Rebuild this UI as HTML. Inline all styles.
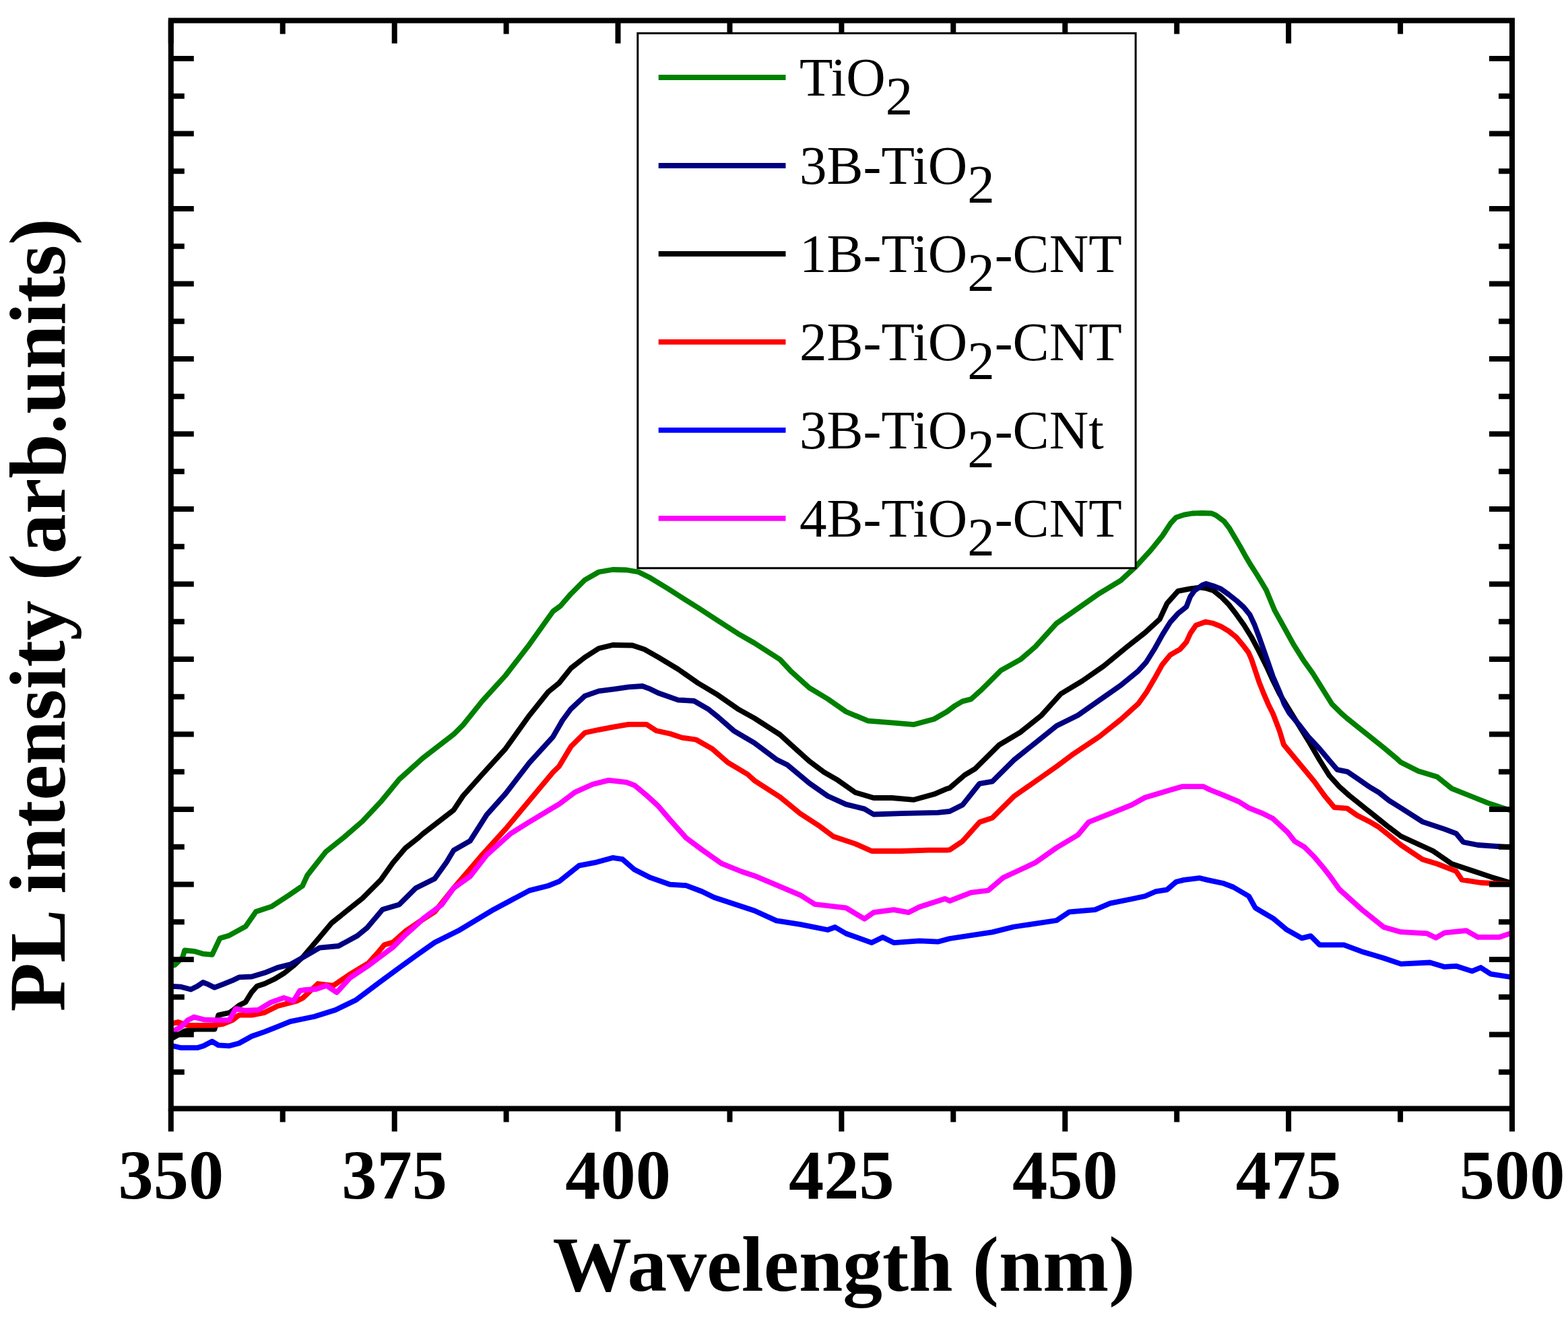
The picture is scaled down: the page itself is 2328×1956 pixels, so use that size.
<!DOCTYPE html>
<html><head><meta charset="utf-8"><title>PL spectra</title>
<style>html,body{margin:0;padding:0;background:#fff;}svg{display:block;}</style>
</head><body><svg width="2328" height="1956" viewBox="0 0 2328 1956"><clipPath id="c"><rect x="253.8" y="30.5" width="1991.2" height="1616.0"/></clipPath><g clip-path="url(#c)"><polyline points="256.0,1434.0 259.5,1433.3 271.0,1421.9 274.2,1411.5 288.3,1412.8 301.0,1416.6 315.0,1417.9 326.5,1393.6 339.3,1389.8 364.8,1375.8 380.0,1354.0 403.0,1346.4 428.6,1329.8 449.0,1315.8 456.3,1300.0 483.5,1265.3 510.7,1243.5 538.0,1219.9 565.2,1190.9 592.7,1157.5 627.8,1125.9 673.5,1090.7 687.5,1076.7 715.6,1041.6 750.7,1003.0 785.9,957.3 821.0,908.0 832.0,900.0 847.7,881.9 868.3,861.3 889.0,849.5 909.6,846.0 930.2,846.5 947.9,849.5 965.6,858.3 992.1,874.5 1012.7,887.8 1036.3,902.5 1065.8,921.7 1095.3,940.8 1120.0,955.0 1158.1,979.5 1174.5,997.2 1201.7,1021.7 1228.9,1038.0 1256.1,1057.0 1288.8,1070.7 1324.2,1073.4 1356.9,1076.1 1386.8,1068.0 1405.9,1057.0 1418.0,1048.0 1429.0,1041.6 1441.7,1038.4 1457.6,1024.1 1486.2,995.6 1514.8,979.7 1537.0,960.6 1568.7,925.7 1600.5,903.5 1632.2,881.3 1664.0,862.2 1686.2,841.6 1708.6,817.1 1725.7,796.0 1737.9,777.3 1745.9,768.6 1757.8,764.6 1769.7,762.5 1785.0,762.0 1799.0,762.5 1805.4,765.4 1817.3,774.1 1825.2,784.4 1833.2,797.9 1841.1,811.4 1849.0,825.7 1857.0,839.2 1864.9,851.5 1872.9,864.5 1880.0,876.5 1892.5,906.7 1906.7,932.2 1920.9,957.8 1935.1,980.4 1949.2,1000.3 1963.4,1023.0 1977.6,1045.7 1991.8,1059.8 2000.0,1066.9 2021.6,1084.2 2054.5,1110.5 2074.2,1127.0 2080.0,1132.3 2105.8,1145.2 2133.8,1153.8 2155.4,1171.1 2187.7,1184.0 2209.2,1192.6 2242.0,1203.4" fill="none" stroke="#008000" stroke-width="7.8" stroke-linejoin="round" stroke-linecap="butt"/><polyline points="256.0,1542.0 264.3,1537.1 275.0,1531.0 290.0,1528.6 318.6,1528.6 324.3,1507.6 341.0,1504.0 345.2,1501.0 354.8,1493.3 364.3,1488.6 373.8,1473.3 381.4,1464.8 392.9,1461.0 407.1,1454.3 421.4,1445.7 435.7,1434.3 450.0,1421.0 474.4,1392.3 492.6,1370.6 519.8,1348.8 538.0,1334.3 565.2,1307.0 583.3,1281.6 601.5,1259.9 620.0,1245.3 627.8,1238.3 673.5,1203.1 687.5,1182.0 715.6,1150.5 750.7,1111.8 785.9,1062.6 814.0,1027.5 830.0,1014.5 847.7,992.4 868.3,976.2 889.0,963.0 909.6,958.0 939.0,958.5 956.7,964.4 977.4,976.2 1006.8,993.9 1036.3,1014.5 1065.8,1032.2 1095.3,1052.8 1120.0,1066.6 1158.1,1091.1 1174.5,1106.1 1201.7,1130.6 1223.5,1146.9 1242.5,1157.8 1269.7,1176.9 1297.0,1185.0 1324.2,1185.0 1356.9,1187.8 1386.8,1179.6 1405.9,1171.4 1410.0,1170.2 1432.2,1151.1 1448.0,1141.6 1483.0,1106.7 1514.8,1087.6 1546.5,1062.2 1575.0,1030.5 1606.8,1011.4 1638.6,989.2 1673.5,960.6 1700.0,939.6 1721.8,919.7 1732.7,896.1 1749.0,877.9 1767.2,874.3 1781.7,872.5 1790.0,873.6 1801.3,877.0 1812.7,886.1 1824.0,897.4 1835.4,912.2 1846.7,928.0 1858.0,946.2 1869.4,967.7 1880.7,990.4 1890.0,1010.8 1900.0,1031.0 1930.0,1080.0 1944.2,1103.0 1959.0,1128.5 1973.7,1152.0 1988.5,1168.3 2003.2,1181.5 2017.9,1193.3 2032.7,1205.1 2047.4,1216.9 2062.2,1228.7 2080.0,1242.0 2127.4,1263.7 2155.4,1283.0 2187.7,1293.8 2213.5,1302.4 2242.0,1311.0" fill="none" stroke="#000000" stroke-width="7.8" stroke-linejoin="round" stroke-linecap="butt"/><polyline points="256.0,1464.8 269.0,1465.7 283.3,1469.5 292.9,1464.8 301.4,1459.0 309.0,1461.9 318.6,1466.7 331.0,1461.9 345.2,1456.2 354.8,1451.4 373.8,1450.5 392.9,1444.8 411.9,1437.1 431.0,1432.4 450.0,1421.9 474.5,1407.7 502.6,1405.0 530.6,1389.8 545.0,1378.0 568.0,1350.7 592.7,1343.6 617.3,1319.0 645.4,1305.0 663.0,1280.4 673.5,1262.9 698.0,1248.8 722.6,1210.2 750.7,1178.6 785.9,1132.9 821.0,1094.3 835.0,1070.0 847.7,1052.8 868.3,1033.7 889.0,1026.3 912.5,1023.4 933.2,1020.4 953.8,1019.0 965.6,1023.4 977.4,1029.3 1006.8,1039.6 1030.4,1041.0 1051.0,1052.8 1065.8,1064.6 1089.4,1085.3 1120.0,1103.4 1152.7,1127.9 1169.0,1136.0 1201.7,1163.3 1228.9,1182.3 1256.1,1194.6 1283.4,1201.4 1297.0,1209.5 1337.8,1208.2 1392.3,1206.8 1410.0,1205.0 1429.0,1195.6 1454.4,1163.8 1473.5,1160.6 1505.2,1128.9 1537.0,1103.5 1568.7,1078.0 1600.5,1062.2 1632.2,1040.0 1664.0,1017.8 1690.0,996.4 1701.9,983.3 1713.8,964.3 1725.7,942.9 1737.6,923.8 1749.5,910.7 1761.4,901.2 1767.4,885.7 1773.3,877.4 1785.2,869.0 1790.7,867.0 1801.3,870.2 1812.7,874.7 1824.0,882.7 1835.4,891.7 1846.7,902.0 1855.8,913.3 1862.6,928.0 1869.4,946.2 1876.2,965.4 1883.0,984.7 1890.0,1005.1 1899.6,1027.2 1906.7,1045.7 1913.8,1058.4 1928.0,1075.4 1942.2,1093.9 1959.0,1112.0 1973.7,1129.5 1985.5,1143.2 2000.3,1146.1 2017.9,1157.9 2032.7,1168.3 2047.4,1177.1 2062.2,1188.9 2080.0,1200.0 2112.3,1220.6 2144.6,1231.4 2161.8,1237.8 2172.6,1250.7 2194.1,1255.0 2242.0,1258.3" fill="none" stroke="#000080" stroke-width="7.8" stroke-linejoin="round" stroke-linecap="butt"/><polyline points="256.0,1520.0 264.3,1518.0 278.6,1522.9 297.6,1522.9 316.7,1522.9 331.0,1521.0 345.2,1515.2 354.8,1507.6 373.8,1507.6 392.9,1503.8 411.9,1494.3 426.2,1490.5 440.5,1486.7 450.0,1481.9 472.0,1461.0 495.0,1463.8 519.8,1446.8 547.0,1430.4 561.6,1414.0 570.6,1403.2 583.3,1399.6 601.5,1383.3 620.0,1370.6 645.4,1354.2 673.5,1319.0 715.6,1269.9 750.7,1231.2 785.9,1189.0 821.0,1147.0 830.0,1138.3 847.7,1108.8 868.3,1088.2 889.0,1083.8 912.5,1079.4 933.2,1075.8 959.7,1075.8 974.4,1085.3 995.0,1089.7 1012.7,1095.6 1033.4,1098.5 1057.0,1111.8 1080.5,1132.4 1110.0,1150.0 1120.0,1159.2 1158.1,1183.7 1188.0,1208.2 1215.3,1225.9 1237.0,1242.2 1269.7,1253.1 1294.2,1264.0 1337.8,1264.0 1378.6,1262.6 1405.9,1262.6 1410.0,1262.2 1429.0,1249.5 1454.4,1221.0 1473.5,1214.6 1505.2,1182.9 1537.0,1160.6 1568.7,1138.4 1594.1,1119.4 1632.2,1094.0 1664.0,1068.6 1690.0,1045.2 1701.9,1028.6 1713.8,1008.3 1725.7,986.9 1737.6,972.6 1751.9,964.3 1761.4,953.6 1767.4,940.5 1775.7,928.6 1790.0,923.5 1801.3,925.8 1812.7,930.3 1824.0,937.1 1835.4,946.2 1846.7,959.8 1853.5,968.8 1858.0,979.0 1863.7,996.0 1869.4,1013.1 1876.2,1030.1 1883.0,1045.9 1890.0,1060.0 1899.6,1085.0 1906.0,1106.0 1922.1,1125.5 1936.9,1143.2 1951.6,1160.9 1966.3,1181.5 1981.1,1199.2 2000.3,1200.7 2015.0,1211.0 2032.7,1219.9 2047.4,1228.7 2062.2,1240.5 2080.0,1255.0 2112.3,1276.6 2133.8,1283.0 2161.8,1293.8 2170.4,1306.7 2198.4,1311.0 2242.0,1313.2" fill="none" stroke="#FF0000" stroke-width="7.8" stroke-linejoin="round" stroke-linecap="butt"/><polyline points="256.0,1553.3 269.0,1556.2 292.9,1556.2 302.4,1553.3 314.8,1546.7 324.3,1552.4 340.5,1553.3 354.8,1549.5 373.8,1539.0 392.9,1532.4 411.9,1524.8 431.0,1517.1 450.0,1513.3 466.8,1509.7 498.0,1500.0 528.9,1484.9 565.2,1457.7 592.4,1437.7 620.0,1417.7 645.4,1399.8 680.5,1382.3 733.2,1350.7 785.9,1322.6 814.0,1315.5 830.0,1309.2 859.5,1285.7 883.0,1281.2 909.6,1273.9 924.3,1276.2 942.0,1291.6 965.6,1303.4 995.0,1313.7 1018.6,1315.1 1042.2,1324.0 1060.0,1332.8 1120.0,1352.5 1152.7,1367.4 1188.0,1372.9 1228.9,1381.0 1239.8,1377.0 1256.1,1386.5 1294.2,1400.1 1310.6,1392.0 1326.9,1400.1 1365.0,1397.4 1392.3,1398.7 1410.0,1394.0 1473.5,1384.4 1505.2,1376.5 1568.7,1367.0 1587.8,1354.3 1625.9,1351.1 1648.1,1341.6 1679.8,1335.2 1700.0,1331.0 1715.4,1324.2 1732.8,1321.3 1746.2,1309.7 1757.8,1306.9 1780.9,1304.0 1792.5,1306.9 1815.6,1311.7 1831.0,1317.5 1854.1,1331.0 1863.8,1348.3 1873.4,1354.1 1890.0,1363.8 1909.7,1380.3 1932.8,1393.4 1945.9,1390.1 1959.1,1403.3 1995.3,1403.3 2021.6,1413.2 2054.5,1423.0 2080.0,1431.6 2123.1,1429.5 2144.6,1435.9 2161.8,1434.8 2185.5,1442.4 2198.4,1437.0 2213.5,1446.7 2242.0,1451.0" fill="none" stroke="#0000FF" stroke-width="7.8" stroke-linejoin="round" stroke-linecap="butt"/><polyline points="256.0,1532.4 269.0,1524.8 278.6,1515.2 288.1,1510.5 302.4,1514.3 321.4,1515.2 340.5,1515.2 350.0,1498.1 364.3,1501.0 383.3,1500.0 402.4,1488.6 421.4,1481.9 435.7,1486.7 445.2,1471.4 450.0,1470.5 469.4,1469.0 484.7,1463.8 500.0,1474.0 519.8,1452.2 547.0,1434.0 561.6,1423.2 583.3,1406.9 601.5,1388.7 620.0,1372.4 627.8,1364.7 656.0,1343.6 673.5,1319.0 698.0,1301.5 722.6,1269.9 757.8,1238.3 785.9,1220.7 821.0,1199.6 830.0,1194.3 853.6,1176.6 880.1,1164.8 903.7,1158.9 930.2,1161.9 942.0,1166.3 959.7,1181.0 977.4,1197.2 995.0,1217.9 1018.6,1244.4 1042.2,1262.0 1071.7,1282.7 1101.2,1294.5 1120.0,1300.7 1152.7,1314.4 1188.0,1329.3 1209.8,1343.0 1256.1,1348.4 1283.4,1364.7 1297.0,1355.2 1326.9,1351.1 1348.7,1355.2 1365.0,1347.0 1403.1,1334.8 1410.0,1338.0 1441.7,1325.7 1467.1,1322.5 1489.4,1303.5 1537.0,1281.3 1568.7,1259.0 1600.5,1240.0 1616.3,1221.0 1648.1,1208.3 1679.8,1195.6 1700.0,1184.5 1719.3,1178.7 1738.5,1173.0 1755.9,1168.1 1786.7,1168.1 1796.3,1173.0 1815.6,1180.7 1838.7,1190.3 1854.1,1199.9 1873.4,1207.6 1890.0,1215.8 1911.8,1236.1 1922.1,1249.3 1936.9,1258.2 1951.6,1272.9 1966.3,1290.6 1973.7,1300.0 1988.7,1321.0 2021.6,1350.7 2054.5,1377.0 2080.0,1384.2 2118.8,1386.4 2131.7,1392.8 2144.6,1385.3 2176.9,1382.1 2194.1,1391.8 2226.4,1391.8 2242.0,1386.4" fill="none" stroke="#FF00FF" stroke-width="7.8" stroke-linejoin="round" stroke-linecap="butt"/></g><path d="M253.8,1646.5 V1680.5 M253.8,30.5 V64.5 M419.7,1646.5 V1666.5 M419.7,30.5 V50.5 M585.7,1646.5 V1680.5 M585.7,30.5 V64.5 M751.6,1646.5 V1666.5 M751.6,30.5 V50.5 M917.5,1646.5 V1680.5 M917.5,30.5 V64.5 M1083.5,1646.5 V1666.5 M1083.5,30.5 V50.5 M1249.4,1646.5 V1680.5 M1249.4,30.5 V64.5 M1415.3,1646.5 V1666.5 M1415.3,30.5 V50.5 M1581.3,1646.5 V1680.5 M1581.3,30.5 V64.5 M1747.2,1646.5 V1666.5 M1747.2,30.5 V50.5 M1913.1,1646.5 V1680.5 M1913.1,30.5 V64.5 M2079.1,1646.5 V1666.5 M2079.1,30.5 V50.5 M2245.0,1646.5 V1680.5 M2245.0,30.5 V64.5 M253.8,87.1 H287.8 M2245,87.1 H2211.0 M253.8,142.8 H273.8 M2245,142.8 H2225.0 M253.8,198.6 H287.8 M2245,198.6 H2211.0 M253.8,254.3 H273.8 M2245,254.3 H2225.0 M253.8,310.1 H287.8 M2245,310.1 H2211.0 M253.8,365.8 H273.8 M2245,365.8 H2225.0 M253.8,421.6 H287.8 M2245,421.6 H2211.0 M253.8,477.3 H273.8 M2245,477.3 H2225.0 M253.8,533.1 H287.8 M2245,533.1 H2211.0 M253.8,588.8 H273.8 M2245,588.8 H2225.0 M253.8,644.5 H287.8 M2245,644.5 H2211.0 M253.8,700.3 H273.8 M2245,700.3 H2225.0 M253.8,756.0 H287.8 M2245,756.0 H2211.0 M253.8,811.8 H273.8 M2245,811.8 H2225.0 M253.8,867.5 H287.8 M2245,867.5 H2211.0 M253.8,923.3 H273.8 M2245,923.3 H2225.0 M253.8,979.0 H287.8 M2245,979.0 H2211.0 M253.8,1034.8 H273.8 M2245,1034.8 H2225.0 M253.8,1090.5 H287.8 M2245,1090.5 H2211.0 M253.8,1146.3 H273.8 M2245,1146.3 H2225.0 M253.8,1202.0 H287.8 M2245,1202.0 H2211.0 M253.8,1257.7 H273.8 M2245,1257.7 H2225.0 M253.8,1313.5 H287.8 M2245,1313.5 H2211.0 M253.8,1369.2 H273.8 M2245,1369.2 H2225.0 M253.8,1425.0 H287.8 M2245,1425.0 H2211.0 M253.8,1480.7 H273.8 M2245,1480.7 H2225.0 M253.8,1536.5 H287.8 M2245,1536.5 H2211.0 M253.8,1592.2 H273.8 M2245,1592.2 H2225.0" stroke="#000" stroke-width="8" fill="none"/><rect x="946.8" y="49.4" width="739.3" height="794.4" fill="#fff" stroke="#000" stroke-width="3"/><line x1="977.7" y1="115.0" x2="1166.5" y2="115.0" stroke="#008000" stroke-width="7.8"/><text x="1187" y="141.8" font-family="Liberation Serif, serif" font-size="81">TiO<tspan dy="28.6">2</tspan></text><line x1="977.7" y1="246.0" x2="1166.5" y2="246.0" stroke="#000080" stroke-width="7.8"/><text x="1187" y="272.8" font-family="Liberation Serif, serif" font-size="81">3B-TiO<tspan dy="28.6">2</tspan></text><line x1="977.7" y1="377.0" x2="1166.5" y2="377.0" stroke="#000000" stroke-width="7.8"/><text x="1187" y="403.8" font-family="Liberation Serif, serif" font-size="81">1B-TiO<tspan dy="28.6">2</tspan><tspan dy="-28.6">-CNT</tspan></text><line x1="977.7" y1="507.9" x2="1166.5" y2="507.9" stroke="#FF0000" stroke-width="7.8"/><text x="1187" y="534.7" font-family="Liberation Serif, serif" font-size="81">2B-TiO<tspan dy="28.6">2</tspan><tspan dy="-28.6">-CNT</tspan></text><line x1="977.7" y1="638.9" x2="1166.5" y2="638.9" stroke="#0000FF" stroke-width="7.8"/><text x="1187" y="665.7" font-family="Liberation Serif, serif" font-size="81">3B-TiO<tspan dy="28.6">2</tspan><tspan dy="-28.6">-CNt</tspan></text><line x1="977.7" y1="769.9" x2="1166.5" y2="769.9" stroke="#FF00FF" stroke-width="7.8"/><text x="1187" y="796.7" font-family="Liberation Serif, serif" font-size="81">4B-TiO<tspan dy="28.6">2</tspan><tspan dy="-28.6">-CNT</tspan></text><rect x="253.8" y="30.5" width="1991.2" height="1616.0" fill="none" stroke="#000" stroke-width="8"/><text x="253.8" y="1780" text-anchor="middle" font-family="Liberation Serif, serif" font-weight="bold" font-size="104.5">350</text><text x="585.7" y="1780" text-anchor="middle" font-family="Liberation Serif, serif" font-weight="bold" font-size="104.5">375</text><text x="917.5" y="1780" text-anchor="middle" font-family="Liberation Serif, serif" font-weight="bold" font-size="104.5">400</text><text x="1249.4" y="1780" text-anchor="middle" font-family="Liberation Serif, serif" font-weight="bold" font-size="104.5">425</text><text x="1581.3" y="1780" text-anchor="middle" font-family="Liberation Serif, serif" font-weight="bold" font-size="104.5">450</text><text x="1913.1" y="1780" text-anchor="middle" font-family="Liberation Serif, serif" font-weight="bold" font-size="104.5">475</text><text x="2245.0" y="1780" text-anchor="middle" font-family="Liberation Serif, serif" font-weight="bold" font-size="104.5">500</text><text x="1252.9" y="1916.5" text-anchor="middle" font-family="Liberation Serif, serif" font-weight="bold" font-size="117.5">Wavelength (nm)</text><text transform="translate(96,913.3) rotate(-90)" x="0" y="0" text-anchor="middle" font-family="Liberation Serif, serif" font-weight="bold" font-size="118.8">PL intensity (arb.units)</text></svg></body></html>
